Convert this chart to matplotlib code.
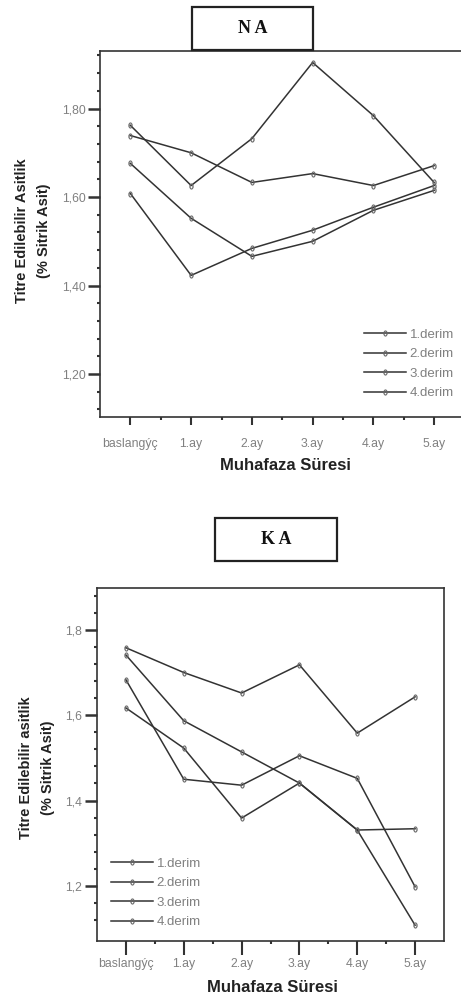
import matplotlib
matplotlib.use("Agg")
import matplotlib.pyplot as plt
from matplotlib.patches import Rectangle
import numpy as np

categories = ["baslangýç", "1.ay", "2.ay", "3.ay", "4.ay", "5.ay"]
series_names = ["1.derim", "2.derim", "3.derim", "4.derim"]

# NA panel values
na_1 = [1.762, 1.626, 1.732, 1.904, 1.784, 1.633]
na_2 = [1.739, 1.700, 1.633, 1.653, 1.626, 1.671]
na_3 = [1.676, 1.552, 1.466, 1.500, 1.570, 1.615]
na_4 = [1.608, 1.423, 1.484, 1.525, 1.577, 1.626]

# KA panel values
ka_1 = [1.758, 1.700, 1.652, 1.718, 1.558, 1.643]
ka_2 = [1.741, 1.587, 1.514, 1.441, 1.331, 1.334]
ka_3 = [1.683, 1.450, 1.436, 1.505, 1.452, 1.198]
ka_4 = [1.617, 1.523, 1.359, 1.441, 1.331, 1.108]

na_yticks = [1.2, 1.4, 1.6, 1.8]
na_yticklabels = ["1,20", "1,40", "1,60", "1,80"]
ka_yticks = [1.2, 1.4, 1.6, 1.8]
ka_yticklabels = ["1,2", "1,4", "1,6", "1,8"]

W, H = 461, 998
fig = plt.figure(figsize=(W / 100, H / 100), dpi=100)
plt.rcParams['font.family'] = ['Liberation Sans', 'DejaVu Sans']

LC = "#333333"
TC = "#808080"


def px_axes(l, t, r, b):
    return fig.add_axes([l / W, 1 - b / H, (r - l) / W, (b - t) / H])


def fx(x):
    return x / W


def fy(y):
    return 1 - y / H


def style(ax, ylim, yticks, yticklabels, xticklen, xpad):
    x = np.arange(len(categories))
    ax.set_xlim(-0.5, 5.5)
    ax.set_ylim(*ylim)
    ax.set_xticks(x)
    ax.set_xticklabels(categories, fontsize=8.8, color=TC)
    ax.set_xticks(x[:-1] + 0.5, minor=True)
    ax.set_yticks(yticks)
    ax.set_yticklabels(yticklabels, fontsize=8.8, color=TC)
    ax.set_yticks(np.arange(1.12, ylim[1], 0.04), minor=True)
    ax.tick_params(axis='x', which='major', length=xticklen, width=1.5, color=LC, pad=xpad)
    ax.tick_params(axis='y', which='major', length=9, width=1.8, color=LC, pad=1.5)
    ax.tick_params(which='minor', length=2, width=1.5, color=LC)
    for s in ax.spines.values():
        s.set_color(LC)
        s.set_linewidth(1.2)


def draw(ax, data):
    handles = []
    for vals, name in zip(data, series_names):
        h, = ax.plot(np.arange(len(categories)), vals, color=LC, lw=1.1,
                     marker='$0$', markersize=4, markeredgewidth=0.3,
                     markerfacecolor="#666666", markeredgecolor="#666666", label=name)
        handles.append(h)
    return handles


def labels(ylab_x, ylab_y, ylabel, xlab_x, xlab_y):
    fig.text(fx(ylab_x), fy(ylab_y), ylabel, rotation=90, ha='center', va='center',
             multialignment='center', fontsize=10.5, fontweight='bold',
             color="#222222", linespacing=1.75)
    fig.text(fx(xlab_x), fy(xlab_y), "Muhafaza Süresi", ha='center', va='center',
             fontsize=12, fontweight='bold', color="#222222")


# ---- NA panel ----
ax1 = px_axes(100, 51, 464.5, 417)
style(ax1, (1.103, 1.93), na_yticks, na_yticklabels, 6, 9)
ax1.spines['right'].set_visible(False)
h1 = draw(ax1, [na_1, na_2, na_3, na_4])
ax1.legend(handles=h1, loc='upper left', bbox_to_anchor=(fx(357), fy(322)),
           bbox_transform=fig.transFigure, frameon=False, fontsize=9.5,
           handlelength=3.2, handletextpad=0.3, labelspacing=0.55, borderpad=0,
           labelcolor=TC)
labels(33, 231, "Titre Edilebilir Asitlik\n(% Sitrik Asit)", 285, 465)

# ---- KA panel ----
ax2 = px_axes(97, 588, 444, 941)
style(ax2, (1.071, 1.898), ka_yticks, ka_yticklabels, 10, 2.5)
h2 = draw(ax2, [ka_1, ka_2, ka_3, ka_4])
ax2.legend(handles=h2, loc='upper left', bbox_to_anchor=(fx(104), fy(851)),
           bbox_transform=fig.transFigure, frameon=False, fontsize=9.5,
           handlelength=3.2, handletextpad=0.3, labelspacing=0.55, borderpad=0,
           labelcolor=TC)
labels(37, 768, "Titre Edilebilir asitlik\n(% Sitrik Asit)", 272, 988)


# ---- title boxes ----
def title_box(l, t, r, b, text):
    rect = Rectangle((fx(l), fy(b)), (r - l) / W, (b - t) / H,
                     transform=fig.transFigure, facecolor='white',
                     edgecolor='#222222', linewidth=1.6, zorder=5)
    fig.add_artist(rect)
    fig.text(fx((l + r) / 2), fy((t + b) / 2), text, ha='center', va='center',
             fontsize=13, fontweight='bold', family=['Liberation Serif', 'DejaVu Serif'],
             color='#111111', zorder=6)


title_box(192, 7, 313, 50, "N A")
title_box(215, 518, 337, 561, "K A")

fig.savefig("out.png", dpi=100)
